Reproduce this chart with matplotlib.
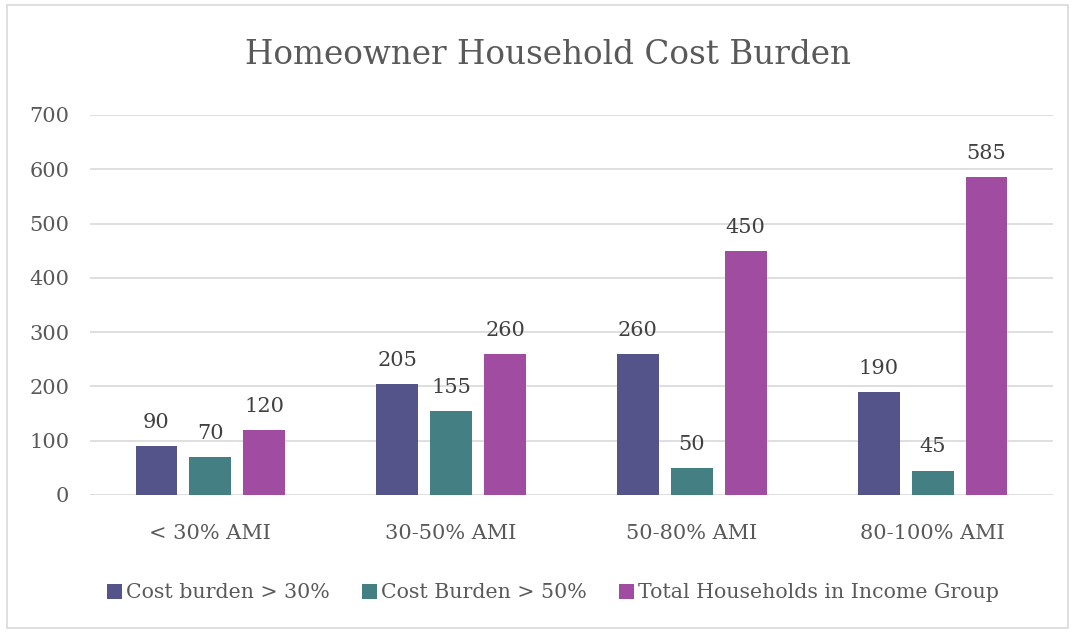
import matplotlib
matplotlib.use("Agg")
import matplotlib.pyplot as plt
import numpy as np
from matplotlib.patches import Rectangle

# --- Donnees ---
categories = ["< 30% AMI", "30-50% AMI", "50-80% AMI", "80-100% AMI"]
burden30 = [90, 205, 260, 190]
burden50 = [70, 155, 50, 45]
total_hh = [120, 260, 450, 585]
series_names = ["Cost burden > 30%", "Cost Burden > 50%", "Total Households in Income Group"]
colors = ["#54548A", "#437F83", "#A04CA0"]

plt.rcParams['font.family'] = ['DejaVu Serif']
txt = "#595959"

fig = plt.figure(figsize=(10.75, 6.33), dpi=100)
ax = fig.add_axes([90/1075, 1-495/633, 963/1075, 380/633])

x = np.arange(len(categories))
w = 0.174
step = 0.224
for i, (vals, name, c) in enumerate(zip([burden30, burden50, total_hh], series_names, colors)):
    pos = x + (i - 1) * step
    ax.bar(pos, vals, width=w, color=c, label=name, zorder=3)
    for p, v in zip(pos, vals):
        ax.text(p, v + 26, str(v), ha="center", va="bottom", fontsize=15, color="#404040")

ax.set_xlim(-0.5, 3.5)
ax.set_ylim(0, 700)
ax.set_yticks(range(0, 701, 100))
ax.yaxis.grid(True, color="#D9D9D9", linewidth=1.2, zorder=0)
for s in ax.spines.values():
    s.set_visible(False)
ax.tick_params(length=0, labelsize=15, labelcolor=txt)
ax.tick_params(axis="y", pad=15)
ax.tick_params(axis="x", pad=21)
ax.set_xticks(x)
ax.set_xticklabels(categories)

fig.text(548/1075, 1-55/633, "Homeowner Household Cost Burden", ha="center", va="center",
         fontsize=23.5, color=txt)

ax.legend(loc="center", bbox_to_anchor=((553-90)/963, (1-593/633 - (1-495/633)) / (380/633)),
          ncol=3, frameon=False, fontsize=14.8, labelcolor=txt,
          handlelength=0.7, handleheight=0.7, handletextpad=0.2, columnspacing=1.6)

# cadre du graphique
fig.patches.append(Rectangle((7/1075, 5/633), 1061/1075, 623/633, transform=fig.transFigure,
                             fill=False, edgecolor="#D9D9D9", linewidth=1.2))

fig.savefig("out.png", dpi=100)
plt.close()
